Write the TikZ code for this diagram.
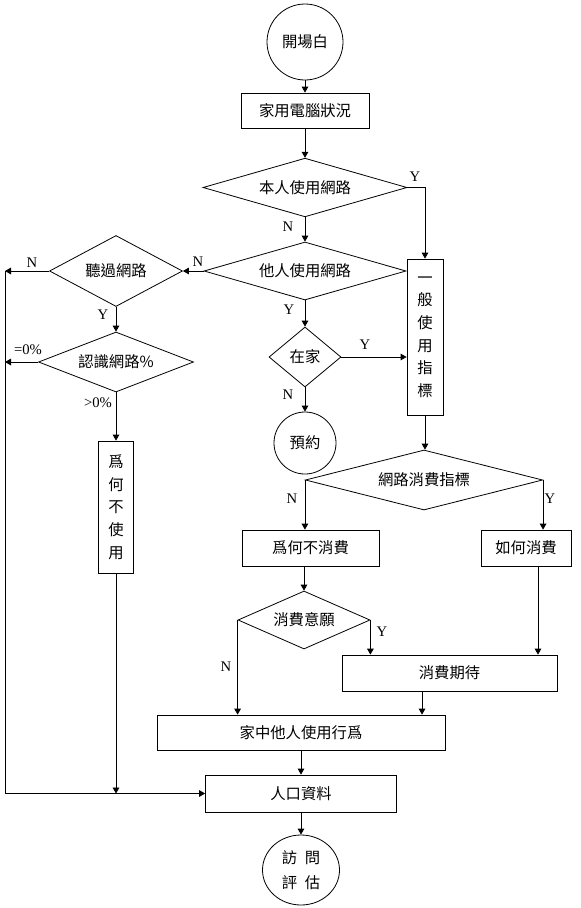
\documentclass[tikz,border=0pt]{standalone}
\usepackage{fontspec}
\setmainfont{Liberation Serif}
\newfontfamily\cjk{Noto Sans CJK TC}
\usepackage{tikz}
\usetikzlibrary{arrows.meta,shapes.geometric}
\tikzset{
  flow/.style={draw,line width=0.6pt,inner sep=0pt,align=center,font=\cjk\fontsize{11.5}{14}\selectfont},
  flowbox/.style={flow,rectangle},
  flowtall/.style={flow,rectangle,font=\cjk\fontsize{11.5}{17}\selectfont},
  flowq/.style={flow,diamond},
  flowend/.style={flow,circle},
  arrow/.style={-{Triangle[length=4.5pt,width=5pt]},line width=0.6pt},
  tag/.style={inner sep=0pt,font=\fontsize{11}{13}\selectfont}
}
\begin{document}
\begin{tikzpicture}[x=0.75pt,y=-0.75pt]
\useasboundingbox (0,0) rectangle (581,908);
\node[flowend,minimum size=57pt] (start) at (305,42) {開場白};
\node[flowbox,minimum width=96pt,minimum height=26.25pt] (b1) at (305,110.5) {家用電腦狀況};
\node[flowq,aspect=3.46,minimum width=153pt,minimum height=44pt] (q1) at (305,187.5) {本人使用網路};
\node[flowq,aspect=3.48,minimum width=151.5pt,minimum height=43.5pt] (q2) at (305,271) {他人使用網路};
\node[flowq,aspect=1.2,minimum width=54pt,minimum height=45pt] (q3) at (305,357) {在家};
\node[flowend,minimum size=46.5pt] (c2) at (305,443) {預約};
\node[flowtall,minimum width=27pt,minimum height=117pt] (b2) at (425,337) {一\\般\\使\\用\\指\\標};
\node[flowq,aspect=4,minimum width=178pt,minimum height=45pt] (q4) at (424,480) {網路消費指標};
\node[flowbox,minimum width=102.75pt,minimum height=27pt] (b3) at (310.5,548) {爲何不消費};
\node[flowbox,minimum width=67.5pt,minimum height=27pt] (b4) at (526,548) {如何消費};
\node[flowq,aspect=2.28,minimum width=99pt,minimum height=43.5pt] (q5) at (304,620) {消費意願};
\node[flowbox,minimum width=161.25pt,minimum height=27pt] (b5) at (449.5,673) {消費期待};
\node[flowbox,minimum width=216pt,minimum height=26.25pt] (b6) at (301,732.5) {家中他人使用行爲};
\node[flowbox,minimum width=143.25pt,minimum height=27.75pt] (b7) at (301,793.5) {人口資料};
\node[flowend,ellipse,minimum width=57.75pt,minimum height=52.5pt,font=\cjk\fontsize{11.5}{18.75}\selectfont] (c3) at (301,870) {訪\hspace{0.5em}問\\評\hspace{0.5em}估};
\node[flowq,aspect=1.87,minimum width=99.75pt,minimum height=53.25pt] (q6) at (116,271) {聽過網路};
\node[flowq,aspect=2.58,minimum width=116.25pt,minimum height=45pt] (q7) at (116,362) {認識網路\%};
\node[flowtall,minimum width=26.25pt,minimum height=99pt] (b8) at (116,507) {爲\\何\\不\\使\\用};
\coordinate (l1) at (5,271);
\coordinate (l2) at (5,362);
\coordinate (l3) at (5,793.5);
\coordinate (b4out) at ([xshift=9pt]b4.south);
\coordinate (b5out) at ([xshift=-20.6pt]b5.south);
\draw[arrow] (start) -- (b1);
\draw[arrow] (b1) -- (q1);
\draw[arrow] (q1) -- (q2);
\draw[arrow] (q1.east) -| (b2.north);
\draw[arrow] (q2.west) -- (q6.east);
\draw[arrow] (q2) -- (q3);
\draw[arrow] (q3.east) -- (b2.west |- q3.east);
\draw[arrow] (q3) -- (c2);
\draw[arrow] (b2.south) -- (b2.south |- q4.north);
\draw[arrow] (q4.west) -- (q4.west |- b3.north);
\draw[arrow] (q4.east) -- (q4.east |- b4.north);
\draw[arrow] (b3.south -| q5.north) -- (q5.north);
\draw[arrow] (q5.west) -- (q5.west |- b6.north);
\draw[arrow] (q5.east) -- (q5.east |- b5.north);
\draw[arrow] (b4out) -- (b4out |- b5.north);
\draw[arrow] (b5out) -- (b5out |- b6.north);
\draw[arrow] (b6) -- (b7);
\draw[arrow] (b7) -- (c3);
\draw[arrow] (q6.west) -- (l1);
\draw[arrow] (q6) -- (q7);
\draw[arrow] (q7.west) -- (l2);
\draw[arrow] (q7) -- (b8);
\draw[arrow] (b8.south) -- (b8.south |- b7.west);
\draw[arrow] (l1) -- (l3) -- (b7.west);
\node[tag] (y1) at (415,177) {Y};
\node[tag] (n1) at (288,227) {N};
\node[tag] (n2) at (198,262) {N};
\node[tag] (y2) at (289,310) {Y};
\node[tag] (y3) at (365,345) {Y};
\node[tag] (n3) at (288,395) {N};
\node[tag] (n4) at (292,499) {N};
\node[tag] (y4) at (550,499) {Y};
\node[tag] (y5) at (382,632) {Y};
\node[tag] (n5) at (226,667) {N};
\node[tag] (n6) at (32,263) {N};
\node[tag] (y6) at (103,315) {Y};
\node[tag] (e0) at (28,350) {=0\%};
\node[tag] (g0) at (98,403) {>0\%};
\end{tikzpicture}
\end{document}
